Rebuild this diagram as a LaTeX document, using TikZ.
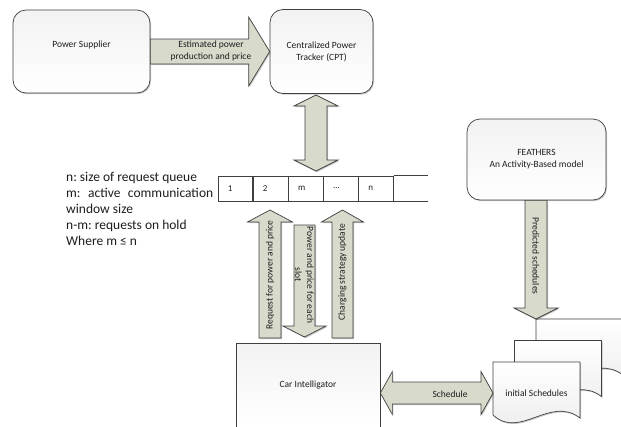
\documentclass[tikz,border=0pt]{standalone}
\usepackage{fontspec}
\setmainfont{Carlito}
\usetikzlibrary{calc,shadows}
\definecolor{arrowfill}{RGB}{216,218,204}
\definecolor{edgec}{RGB}{64,64,64}
\definecolor{txt}{RGB}{30,30,30}
% single block arrow: start, end, half shaft, half head, head length
\newcommand\blockarrow[5]{%
  \coordinate (bah) at ($(#2)!#5!(#1)$);
  \draw[barrow] ($(#1)!#3!90:(#2)$) -- ($(bah)!#3!90:(#2)$) -- ($(bah)!#4!90:(#2)$)
    -- (#2) -- ($(bah)!#4!-90:(#2)$) -- ($(bah)!#3!-90:(#2)$) -- ($(#1)!#3!-90:(#2)$) -- cycle;}
% double block arrow
\newcommand\dblockarrow[5]{%
  \coordinate (bha) at ($(#1)!#5!(#2)$);
  \coordinate (bhb) at ($(#2)!#5!(#1)$);
  \draw[barrow] (#1) -- ($(bha)!#4!90:(#2)$) -- ($(bha)!#3!90:(#2)$) -- ($(bhb)!#3!-90:(#1)$)
    -- ($(bhb)!#4!-90:(#1)$) -- (#2) -- ($(bhb)!#4!90:(#1)$) -- ($(bhb)!#3!90:(#1)$)
    -- ($(bha)!#3!-90:(#2)$) -- ($(bha)!#4!-90:(#2)$) -- cycle;}
\frenchspacing
\begin{document}
\begin{tikzpicture}[x=1pt,y=-1pt,
  shad/.style={drop shadow={shadow xshift=1pt,shadow yshift=-1.2pt,opacity=0.22,fill=black}},
  box/.style={draw=edgec, line width=0.7pt, top color=gray!10, bottom color=white, shad},
  rbox/.style={box, rounded corners=13pt},
  barrow/.style={draw=edgec, line width=0.7pt, fill=arrowfill, line join=miter, shad},
  lbl/.style={font=\fontsize{9.5}{12}\selectfont, text=txt, align=center, inner sep=0pt},
  cell/.style={draw=edgec, line width=0.7pt, minimum height=25pt, text width=15.4pt,
    inner xsep=9.5pt, inner ysep=0pt, align=left, font=\fontsize{9}{11}\selectfont,
    text=txt, anchor=west, fill=white},
  docsh/.style={draw=edgec, line width=0.7pt, top color=white, bottom color=gray!16, shad}
]
\useasboundingbox (0,0) rectangle (621,426);
\clip (0,0) rectangle (621,426);
\fill[white] (0,0) rectangle (621,426);

% boxes
\node[rbox, minimum width=137pt, minimum height=83pt] (ps) at (81.5,51.5) {};
\node[lbl] (pstext) at (81.5,45) {Power Supplier};
\node[rbox, lbl, minimum width=103pt, minimum height=84pt] (cpt) at (321.5,51.5) {Centralized Power\\Tracker (CPT)};
\node[rbox, lbl, minimum width=139pt, minimum height=81pt] (feathers) at (536.5,159.5) {FEATHERS\\An Activity-Based model};
\node[box, lbl, minimum width=144pt, minimum height=84pt] (car) at (308,385) {Car Intelligator};

% documents
\newcommand\docpath[2]{(#1,#2) -- (#1+87,#2) -- (#1+87,#2+56) .. controls (#1+57,#2+33) and (#1+27,#2+78) .. (#1,#2+53) -- cycle}
\path[docsh] \docpath{536}{319};
\path[docsh] \docpath{514.5}{340.5};
\path[docsh] \docpath{493}{362};
\coordinate (frontdoc) at (493,362);
\node[lbl] (init) at (536.5,393) {initial Schedules};

% queue
\node[cell] (q1) at (218,188.5) {1};
\node[cell] (q2) at (q1.east) {2};
\node[cell] (q3) at (q2.east) {m};
\node[cell] (q4) at (q3.east) {...};
\node[cell] (q5) at (q4.east) {n};
\coordinate (qendt) at ([xshift=34pt]q5.north east);
\coordinate (qendb) at ([xshift=34pt]q5.south east);
\draw[draw=edgec, line width=0.7pt] (q5.north east) -- (qendt);
\draw[draw=edgec, line width=0.7pt] (q5.south east) -- (qendb);

% legend
\node[anchor=north west, text width=147pt, align=justify, inner sep=0pt,
  font=\fontsize{13.5}{16}\selectfont, text=txt] (legend) at (66,172)
  {\hyphenpenalty=10000 n: size of request queue\\
   m: active communication window size\\
   n-m: requests on hold\\
   Where m ≤ n};

% arrows
\blockarrow{ps.east}{cpt.west}{12.5pt}{34.5pt}{21pt}
\node[lbl] (esttext) at (211,50.5) {Estimated power\\production and price};

\coordinate (c1) at (316,95);
\coordinate (c2) at (316,171);
\dblockarrow{c1}{c2}{11pt}{22pt}{11pt}

\coordinate (a1s) at (270,338);
\coordinate (a1e) at (270,210);
\blockarrow{a1s}{a1e}{11pt}{22.5pt}{12pt}
\node[lbl, rotate=90] (a1t) at (270,275) {Request for power and price};

\coordinate (a2s) at (304.5,225);
\coordinate (a2e) at (304.5,337);
\blockarrow{a2s}{a2e}{10.5pt}{21.5pt}{11pt}
\node[lbl, rotate=-90] (a2t) at (304.5,275) {Power and price for each\\slot};

\coordinate (a3s) at (342.5,338);
\coordinate (a3e) at (342.5,210);
\blockarrow{a3s}{a3e}{10.5pt}{21pt}{12pt}
\node[lbl, rotate=90] (a3t) at (342.5,272) {Charging strategy update};

\coordinate (p1) at (feathers.south -| 536,0);
\coordinate (p2) at (536,319);
\blockarrow{p1}{p2}{11pt}{22pt}{11pt}
\node[lbl, rotate=-90] (pt) at (536,256) {Predicted schedules};

\coordinate (s1) at (car.east |- init);
\coordinate (s2) at (frontdoc |- init);
\dblockarrow{s1}{s2}{11pt}{21.5pt}{12pt}
\node[lbl] (schtext) at (450,394) {Schedule};
\end{tikzpicture}
\end{document}
